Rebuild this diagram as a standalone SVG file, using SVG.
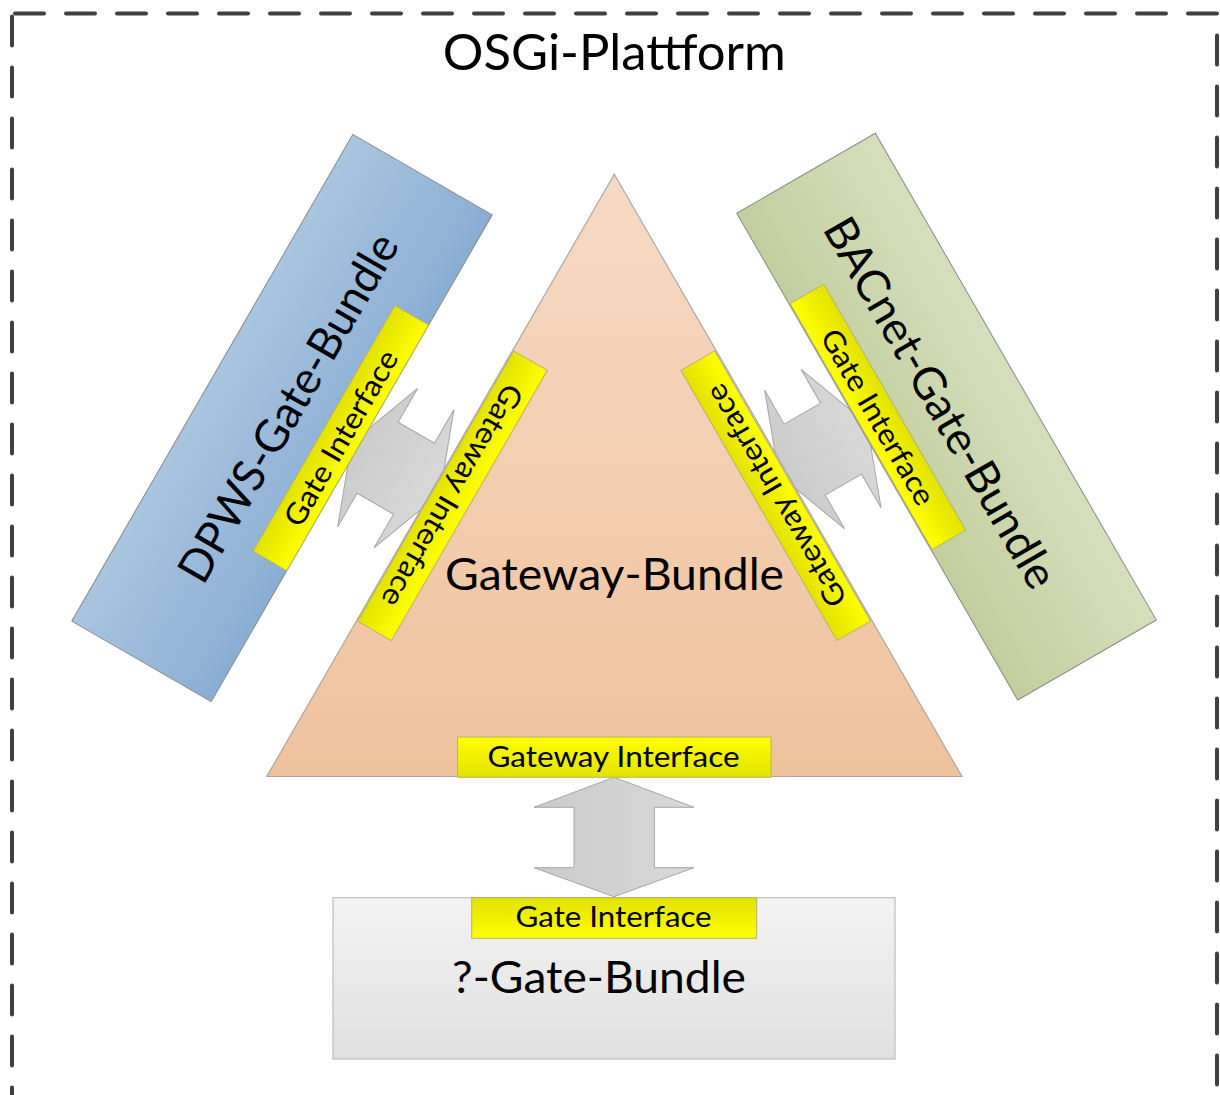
<svg xmlns="http://www.w3.org/2000/svg" width="1220" height="1095" viewBox="0 0 1220 1095">
<style>
.frame{fill:none;stroke:#404040;stroke-width:4;stroke-linecap:round;stroke-linejoin:round;stroke-dasharray:29 22;stroke-dashoffset:-3}
.t{font-family:Lato,"Open Sans","Liberation Sans",sans-serif;fill:#000;text-anchor:middle}
.big{font-size:45px}
.small{font-size:29.5px}
.title{font-size:50px}
.arrow{fill:url(#arrowGrad);stroke:#a6a6a6;stroke-width:1}
.yb{stroke:#b4b46a;stroke-width:1}
</style>
<defs>
<linearGradient id="triGrad" x1="0" y1="0" x2="0" y2="1"><stop offset="0" stop-color="#f7dac4"/><stop offset="1" stop-color="#efc29d"/></linearGradient>
<linearGradient id="blueGrad" x1="0" y1="0" x2="0" y2="1"><stop offset="0" stop-color="#a9c5e0"/><stop offset="1" stop-color="#8aaed3"/></linearGradient>
<linearGradient id="greenGrad" x1="0" y1="0" x2="0" y2="1"><stop offset="0" stop-color="#d6dfbc"/><stop offset="1" stop-color="#c2ce9e"/></linearGradient>
<linearGradient id="grayGrad" x1="0" y1="0" x2="0" y2="1"><stop offset="0" stop-color="#f3f3f3"/><stop offset="1" stop-color="#e0e0e0"/></linearGradient>
<linearGradient id="yelA" x1="0" y1="0" x2="0" y2="1"><stop offset="0" stop-color="#ffff00"/><stop offset="1" stop-color="#e2e200"/></linearGradient>
<linearGradient id="yelB" x1="0" y1="0" x2="0" y2="1"><stop offset="0" stop-color="#e2e200"/><stop offset="1" stop-color="#ffff00"/></linearGradient>
<linearGradient id="arrowGrad" x1="0" y1="0" x2="1" y2="0"><stop offset="0" stop-color="#cbcbcb"/><stop offset="1" stop-color="#d9d9d9"/></linearGradient>
</defs>

<g id="frame">
<path class="frame" d="M12,13.5 H1217 V1110"/>
<path class="frame" d="M12,13.5 V1110"/>
<text class="t title" x="614.3" y="70" textLength="343" lengthAdjust="spacingAndGlyphs">OSGi-Plattform</text>
</g>

<g id="connectors">
<polygon class="arrow" points="614,777.3 694,807.3 654.4,807.3 654.4,867.7 694,867.7 614,896.7 534,867.7 574,867.7 574,807.3 534,807.3"/>
<polygon class="arrow" transform="translate(395.8,468.2) rotate(30)" points="-51,0 -21,-80 -21,-41 21,-41 21,-80 51,0 21,80 21,41 -21,41 -21,80"/>
<polygon class="arrow" transform="translate(822.9,449.15) rotate(-30)" points="-51,0 -21,-80 -21,-41 21,-41 21,-80 51,0 21,80 21,41 -21,41 -21,80"/>
</g>

<g id="gateway-bundle">
<polygon points="614.3,174.3 962,776.5 266.7,776.5" fill="url(#triGrad)" stroke="#a8a8a8" stroke-width="1.2"/>
<text class="t big" x="614.5" y="589.5" textLength="339" lengthAdjust="spacingAndGlyphs">Gateway-Bundle</text>
<g transform="translate(452.5,495.75) rotate(120)">
<rect class="yb" x="-156" y="-19.5" width="312" height="39" fill="url(#yelA)"/>
<text class="t small" x="0" y="10.5" textLength="252" lengthAdjust="spacingAndGlyphs">Gateway Interface</text>
</g>
<g transform="translate(775.8,495.75) rotate(-120)">
<rect class="yb" x="-156" y="-19.5" width="312" height="39" fill="url(#yelB)"/>
<text class="t small" x="0" y="10.5" textLength="252" lengthAdjust="spacingAndGlyphs">Gateway Interface</text>
</g>
<rect class="yb" x="457.6" y="737" width="313.5" height="40.3" fill="url(#yelA)"/>
<text class="t small" x="613.5" y="766.7" textLength="252" lengthAdjust="spacingAndGlyphs">Gateway Interface</text>
</g>

<g id="dpws-gate-bundle" transform="translate(282,418) rotate(-60)">
<rect x="-281" y="-80.5" width="562" height="161" fill="url(#blueGrad)" stroke="#8a8a8a" stroke-width="1"/>
<text class="t big" x="12" y="16" textLength="394" lengthAdjust="spacingAndGlyphs">DPWS-Gate-Bundle</text>
<rect class="yb" x="-130" y="41.5" width="284" height="39" fill="url(#yelB)"/>
<text class="t small" x="12" y="71.5" textLength="198" lengthAdjust="spacingAndGlyphs">Gate Interface</text>
</g>

<g id="bacnet-gate-bundle" transform="translate(946.5,416.6) rotate(60)">
<rect x="-281" y="-80" width="562" height="160" fill="url(#greenGrad)" stroke="#8a8a8a" stroke-width="1"/>
<text class="t big" x="-15" y="14" textLength="420" lengthAdjust="spacingAndGlyphs">BACnet-Gate-Bundle</text>
<rect class="yb" x="-176" y="40" width="284" height="39" fill="url(#yelB)"/>
<text class="t small" x="-34" y="70" textLength="198" lengthAdjust="spacingAndGlyphs">Gate Interface</text>
</g>

<g id="unknown-gate-bundle">
<rect x="333" y="897.7" width="562" height="161.3" fill="url(#grayGrad)" stroke="#bdbdbd" stroke-width="1.2"/>
<rect class="yb" x="471.7" y="897.7" width="285" height="40.6" fill="url(#yelB)"/>
<text class="t small" x="613.6" y="927.3" textLength="196" lengthAdjust="spacingAndGlyphs">Gate Interface</text>
<text class="t big" x="599" y="993" textLength="294" lengthAdjust="spacingAndGlyphs">?-Gate-Bundle</text>
</g>
</svg>
